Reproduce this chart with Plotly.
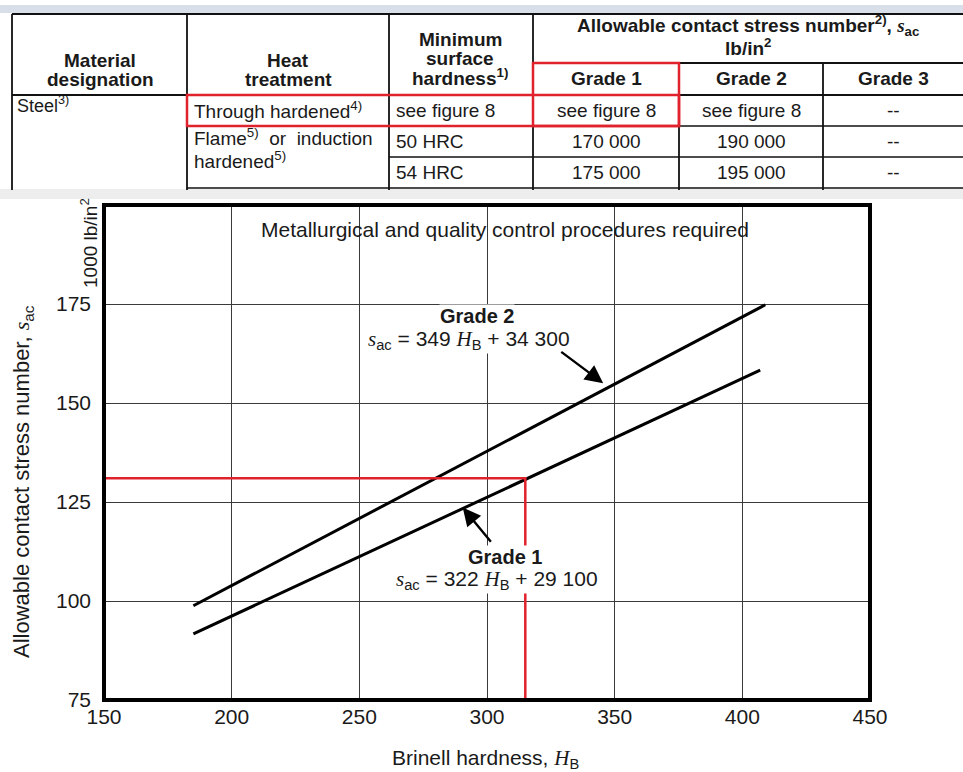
import plotly.graph_objects as go

# ---------------- data ----------------
x_ticks = [150, 200, 250, 300, 350, 400, 450]
y_ticks = [75, 100, 125, 150, 175]

hb_grade2 = [185, 409]
sac_grade2 = [98.8, 174.8]
hb_grade1 = [185, 407]
sac_grade1 = [91.7, 158.3]

ref_hb = 315      # red construction line (hardness)
ref_sac = 131     # red construction line (stress)

SERIF_S = "<span style=\"font-family:'Liberation Serif'\"><i>s</i></span>"
SERIF_H = "<span style=\"font-family:'Liberation Serif'\"><i>H</i></span>"

grade2_label = ["<b>Grade 2</b>", SERIF_S + "<sub>ac</sub> = 349 " + SERIF_H + "<sub>B</sub> + 34 300"]
grade1_label = ["<b>Grade 1</b>", SERIF_S + "<sub>ac</sub> = 322 " + SERIF_H + "<sub>B</sub> + 29 100"]
note_text = "Metallurgical and quality control procedures required"

# table contents
material_header = ["Material", "designation"]
heat_header = ["Heat", "treatment"]
hardness_header = ["Minimum", "surface", "hardness<sup>1)</sup>"]
stress_header = ["Allowable contact stress number<sup>2)</sup>, " + SERIF_S + "<sub>ac</sub>", "lb/in<sup>2</sup>"]
grade_headers = ["Grade 1", "Grade 2", "Grade 3"]
row_material = "Steel<sup>3)</sup>"
row_treatments = ["Through hardened<sup>4)</sup>", "Flame<sup>5)</sup>  or  induction", "hardened<sup>5)</sup>"]
row_hardness = ["see figure 8", "50 HRC", "54 HRC"]
grade1_vals = ["see figure 8", "170 000", "175 000"]
grade2_vals = ["see figure 8", "190 000", "195 000"]
grade3_vals = ["--", "--", "--"]

# ---------------- layout helpers ----------------
W, H = 963, 772
L, R, T, B = 104, 93, 205, 72
PW, PH = W - L - R, H - T - B

def px(x):
    return (x - L) / PW

def py(y):
    return (H - B - y) / PH

FONT = "Liberation Sans, Arial, sans-serif"
TXT = "#1a1a1a"

fig = go.Figure()

fig.add_trace(go.Scatter(x=hb_grade2, y=sac_grade2, mode="lines",
                         line=dict(color="black", width=3), showlegend=False, hoverinfo="skip"))
fig.add_trace(go.Scatter(x=hb_grade1, y=sac_grade1, mode="lines",
                         line=dict(color="black", width=3), showlegend=False, hoverinfo="skip"))
fig.add_trace(go.Scatter(x=[x_ticks[0], ref_hb, ref_hb], y=[ref_sac, ref_sac, y_ticks[0]], mode="lines",
                         line=dict(color="#e0222c", width=2.5), showlegend=False, hoverinfo="skip"))

shapes = []
annotations = []

# frame
shapes.append(dict(type="rect", xref="paper", yref="paper", x0=0, x1=1, y0=0, y1=1,
                   line=dict(color="black", width=4), layer="above"))

# ---------------- table ----------------
shapes.append(dict(type="rect", xref="paper", yref="paper", x0=px(0), x1=px(W), y0=py(5), y1=py(13),
                   fillcolor="#d9dfe9", line=dict(width=0), layer="below"))
shapes.append(dict(type="rect", xref="paper", yref="paper", x0=px(0), x1=px(W), y0=py(189), y1=py(199),
                   fillcolor="#ededed", line=dict(width=0), layer="below"))

def hline(y, x0, x1, w=1.8, c="#111"):
    shapes.append(dict(type="line", xref="paper", yref="paper", x0=px(x0), x1=px(x1), y0=py(y), y1=py(y),
                       line=dict(color=c, width=w)))

def vline(x, y0, y1, w=1.8, c="#111"):
    shapes.append(dict(type="line", xref="paper", yref="paper", x0=px(x), x1=px(x), y0=py(y0), y1=py(y1),
                       line=dict(color=c, width=w)))

cols = [12, 187, 389, 533, 679, 823, 963]
hline(14, 12, 963, 2.2)
hline(63, 533, 963, 2)
hline(95, 12, 963, 2)
hline(126, 187, 963, 1.6)
hline(157, 389, 963, 1.6)
hline(188, 187, 963, 1.6)
for c in cols[:4]:
    vline(c, 14, 190)
for c in cols[4:6]:
    vline(c, 63, 190)

for (x0, y0, x1, y1) in [(187, 95, 679, 126), (533, 63, 679, 126)]:
    shapes.append(dict(type="rect", xref="paper", yref="paper", x0=px(x0), x1=px(x1), y0=py(y0), y1=py(y1),
                       line=dict(color="#e0222c", width=2.5), fillcolor="rgba(0,0,0,0)"))

def txt(text, x, y, anchor="center", size=19, bold=False):
    annotations.append(dict(xref="paper", yref="paper", x=px(x), y=py(y), text=("<b>%s</b>" % text) if bold else text,
                            showarrow=False, xanchor=anchor, yanchor="middle", borderpad=0,
                            font=dict(family=FONT, size=size, color=TXT)))

for i, t in enumerate(material_header):
    txt(t, 100, 61 + 19 * i, bold=True)
for i, t in enumerate(heat_header):
    txt(t, 288, 61 + 19 * i, bold=True)
for i, t in enumerate(hardness_header):
    txt(t, 460, 39 + 19 * i, bold=True)
txt(stress_header[0], 748, 26, bold=True)
txt(stress_header[1], 748, 47, bold=True)
grade_cx = [606, 751, 893]
for cx, t in zip(grade_cx, grade_headers):
    txt(t, cx, 79, bold=True)

txt(row_material, 16, 104, anchor="left", size=18)
txt(row_treatments[0], 193, 110, anchor="left")
txt(row_treatments[1], 193, 137, anchor="left")
txt(row_treatments[2], 193, 160, anchor="left")
row_cy = [110, 141, 172]
for cy, t in zip(row_cy, row_hardness):
    txt(t, 395, cy, anchor="left")
for vals, cx in zip([grade1_vals, grade2_vals, grade3_vals], grade_cx):
    for cy, t in zip(row_cy, vals):
        txt(t, cx, cy)

# ---------------- chart annotations ----------------
def dtxt(text, x, y, size=21, bg=None):
    d = dict(xref="x", yref="y", x=x, y=y, text=text, showarrow=False, borderpad=0,
             font=dict(family=FONT, size=size, color=TXT))
    if bg:
        d["bgcolor"] = bg
    annotations.append(d)

dtxt(note_text, 307, 193.9, 21)
dtxt(grade2_label[0], 296, 172.0, 20, "white")
dtxt(grade2_label[1], 293, 166.0, 21, "white")
dtxt(grade1_label[0], 307, 111.1, 20, "white")
dtxt(grade1_label[1], 304, 105.2, 21, "white")

for (hx, hy, tx, ty) in [(345.5, 155.0, 328.5, 163.2), (290.5, 123.6, 302, 114.6)]:
    annotations.append(dict(xref="x", yref="y", axref="x", ayref="y", x=hx, y=hy, ax=tx, ay=ty,
                            text="", showarrow=True, arrowhead=2, arrowsize=1.5, arrowwidth=2.4,
                            arrowcolor="black"))

# axis titles
annotations.append(dict(xref="paper", yref="paper", x=px(23), y=py(482), textangle=-90, showarrow=False,
                        xanchor="center", yanchor="middle",
                        text="Allowable contact stress number, " + SERIF_S + "<sub>ac</sub>",
                        font=dict(family=FONT, size=22, color=TXT)))
annotations.append(dict(xref="paper", yref="paper", x=px(89), y=py(243), textangle=-90, showarrow=False,
                        xanchor="center", yanchor="middle",
                        text="1000 lb/in<sup>2</sup>",
                        font=dict(family=FONT, size=19, color=TXT)))
annotations.append(dict(xref="paper", yref="paper", x=px(485), y=py(759), showarrow=False,
                        xanchor="center", yanchor="middle",
                        text="Brinell hardness, " + SERIF_H + "<sub>B</sub>",
                        font=dict(family=FONT, size=21, color=TXT)))

fig.update_layout(
    width=W, height=H,
    margin=dict(l=L, r=R, t=T, b=B),
    paper_bgcolor="white", plot_bgcolor="white",
    shapes=shapes, annotations=annotations,
    showlegend=False,
    xaxis=dict(range=[150, 450], tickvals=x_ticks, showgrid=True, gridcolor="#3a3a3a", gridwidth=1.2,
               zeroline=False, showline=False, ticks="", ticklabelstandoff=2,
               tickfont=dict(family=FONT, size=21, color=TXT)),
    yaxis=dict(range=[75, 200], tickvals=y_ticks, showgrid=True, gridcolor="#3a3a3a", gridwidth=1.2,
               zeroline=False, showline=False, ticks="", ticklabelstandoff=12,
               tickfont=dict(family=FONT, size=21, color=TXT)),
)

fig.write_html("out.html")
